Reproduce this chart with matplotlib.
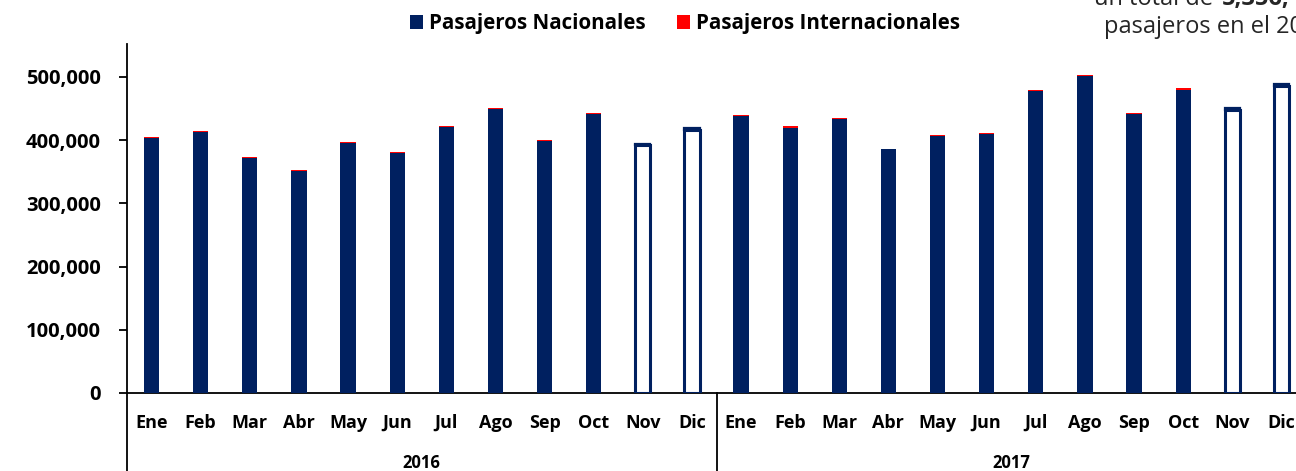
import matplotlib
matplotlib.use("Agg")
import matplotlib.pyplot as plt
from matplotlib.patches import Patch
from matplotlib.ticker import FuncFormatter
import matplotlib.transforms as mtransforms

plt.rcParams['font.family'] = ['Open Sans', 'DejaVu Sans']

# ---------------- data ----------------
months = ['Ene', 'Feb', 'Mar', 'Abr', 'May', 'Jun', 'Jul', 'Ago', 'Sep', 'Oct', 'Nov', 'Dic']
years = ['2016', '2017']

nacional_2016 = [403800, 413600, 371800, 351400, 395800, 380100,
                 420000, 448700, 398100, 441800, 392000, 416500]
internacional_2016 = [1200, 1000, 1200, 1500, 1300, 1200,
                      2500, 1800, 2200, 1700, 2500, 2500]
nacional_2017 = [437400, 419700, 432900, 385400, 407000, 408900,
                 477200, 501000, 442000, 479600, 448100, 485600]
internacional_2017 = [2500, 2800, 2200, 1200, 1200, 2500,
                      2200, 2200, 1500, 3500, 2500, 3000]

# months shown as hollow (estimated) bars
hollow_months = ['Nov', 'Dic']

y_ticks = [0, 100000, 200000, 300000, 400000, 500000]

legend_labels = ['Pasajeros Nacionales', 'Pasajeros Internacionales']
note_line1_regular = 'un total de '
note_line1_bold = '5,356,'
note_line2 = 'pasajeros en el 2017'

# ---------------- styling ----------------
NAVY = '#002060'
RED = '#FF0000'

W, H = 1296, 471
fig = plt.figure(figsize=(W / 100, H / 100), dpi=100)
ax = fig.add_axes([127 / W, 78 / H, 1179 / W, 349 / H])

nacional = nacional_2016 + nacional_2017
internacional = internacional_2016 + internacional_2017
labels = months + months
x = list(range(len(nacional)))
bar_w = 0.31

for i in x:
    hollow = labels[i] in hollow_months
    if hollow:
        ax.bar(i, nacional[i], width=bar_w, color='white', edgecolor=NAVY,
               linewidth=2.2, zorder=3)
        ax.bar(i, internacional[i], bottom=nacional[i], width=bar_w, color=RED,
               edgecolor=NAVY, linewidth=1.6, zorder=3)
    else:
        ax.bar(i, nacional[i], width=bar_w, color=NAVY, linewidth=0, zorder=3)
        ax.bar(i, internacional[i], bottom=nacional[i], width=bar_w, color=RED,
               linewidth=0, zorder=3)

ax.set_xlim(-0.5, len(x) - 0.5)
ax.set_ylim(0, 552000)
ax.set_yticks(y_ticks)
ax.yaxis.set_major_formatter(FuncFormatter(lambda v, p: f'{v:,.0f}'))

for s in ['top', 'right']:
    ax.spines[s].set_visible(False)
ax.spines['left'].set_linewidth(1.3)
ax.spines['bottom'].set_linewidth(1.3)
ax.spines['left'].set_color('black')
ax.spines['bottom'].set_color('black')

ax.tick_params(axis='y', direction='out', length=6, width=1.3, pad=13,
               labelsize=14.5)
for t in ax.get_yticklabels():
    t.set_fontweight('bold')

ax.set_xticks(x)
ax.set_xticklabels(labels, fontsize=13, fontweight='bold')
ax.tick_params(axis='x', length=0, pad=15)

# year labels and separators
trans = mtransforms.blended_transform_factory(ax.transData, ax.transAxes)
for k, yr in enumerate(years):
    center = k * 12 + 5.5
    ax.text(center, -0.2, yr, transform=trans, ha='center', va='center',
            fontsize=12, fontweight='bold', clip_on=False)
for sep in [-0.5, 11.5]:
    ax.plot([sep, sep], [0, -0.3], transform=trans, color='black',
            linewidth=1.3, clip_on=False, zorder=5)

# legend
handles = [Patch(facecolor=NAVY, edgecolor='none'),
           Patch(facecolor=RED, edgecolor='none')]
fig.legend(handles, legend_labels, loc='center', bbox_to_anchor=(685 / W, 1 - 24 / H),
           ncol=2, frameon=False, handlelength=0.65, handleheight=0.65,
           handletextpad=0.3, columnspacing=1.5,
           prop={'family': 'Open Sans', 'weight': 'bold', 'size': 14.8})

# clipped note at top right
fig.text(1219 / W, 1 - 5 / H, note_line1_regular, ha='right', va='baseline',
         fontsize=17, color='#262626')
fig.text(1222 / W, 1 - 5 / H, note_line1_bold, ha='left', va='baseline',
         fontsize=17, fontweight='bold', color='#262626')
fig.text(1104 / W, 1 - 33 / H, note_line2, ha='left', va='baseline',
         fontsize=17, color='#262626')

fig.savefig('out.png', dpi=100)
